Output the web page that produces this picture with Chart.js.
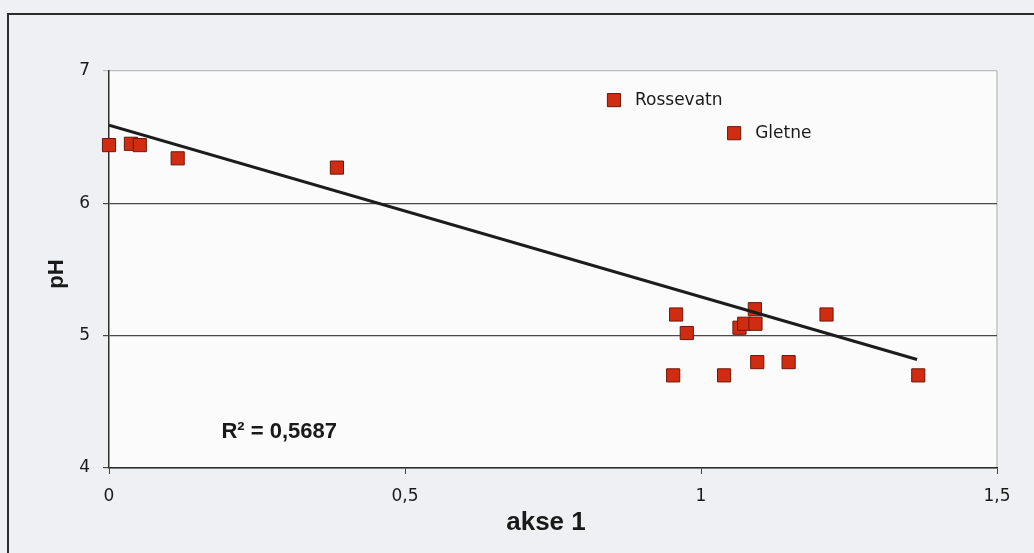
<!DOCTYPE html>
<html>
<head>
<meta charset="utf-8">
<script src="https://cdn.jsdelivr.net/npm/chart.js@4/dist/chart.umd.min.js"></script>
<style>
  html, body { margin: 0; padding: 0; background: #eef0f3; overflow: hidden; }
  #wrap { position: relative; width: 1034px; height: 553px; }
  #frame { position: absolute; left: 7px; top: 13px; width: 1100px; height: 700px;
           border-left: 2px solid #2b2b2b; border-top: 2px solid #2b2b2b; pointer-events: none; }
  canvas { position: absolute; left: 0; top: 0; }
</style>
</head>
<body>
<div id="wrap">
  <canvas id="c" width="1034" height="553"></canvas>
  <div id="frame"></div>
</div>
<script>
// akse 1 (x) and pH (y) per lake
const akse1 = [0, 0.037, 0.052, 0.116, 0.385, 0.958, 0.976, 0.953, 1.039, 1.065, 1.073, 1.092, 1.091, 1.095, 1.148, 1.212, 1.367];
const pH    = [6.44, 6.45, 6.44, 6.34, 6.27, 5.16, 5.02, 4.70, 4.70, 5.06, 5.09, 5.09, 5.20, 4.80, 4.80, 5.16, 4.70];

// labelled markers
const markerNames = ["Rossevatn", "Gletne"];
const markerX = [0.853, 1.056];
const markerY = [6.78, 6.53];

// trend line end points
const trendX = [0, 1.365];
const trendY = [6.59, 4.82];
const rSquared = "R\u00B2 = 0,5687";

const xTicks = [0, 0.5, 1, 1.5];
const yTicks = [4, 5, 6, 7];

const red = "#d02c12";
const redBorder = "#6e1608";

const plotBg = {
  id: "plotBg",
  beforeDraw(chart) {
    const { ctx, chartArea: a } = chart;
    ctx.save();
    ctx.fillStyle = "#fbfbfc";
    ctx.fillRect(a.left, a.top, a.right - a.left, a.bottom - a.top);
    ctx.strokeStyle = "#c4c6ca";
    ctx.lineWidth = 1.5;
    ctx.beginPath();
    ctx.moveTo(a.right, a.top);
    ctx.lineTo(a.right, a.bottom);
    ctx.stroke();
    ctx.restore();
  },
};

const texts = {
  id: "texts",
  afterDraw(chart) {
    const { ctx, scales } = chart;
    const x = scales.x, y = scales.y;
    ctx.save();
    ctx.fillStyle = "#1a1a1a";
    ctx.textBaseline = "middle";
    // marker names
    ctx.font = "17px 'DejaVu Sans'";
    ctx.textAlign = "left";
    markerNames.forEach((name, i) => {
      ctx.fillText(name, x.getPixelForValue(markerX[i]) + 21, y.getPixelForValue(markerY[i]));
    });
    // R squared
    ctx.font = "bold 22px 'Liberation Sans'";
    ctx.fillText(rSquared, x.getPixelForValue(0.19), y.getPixelForValue(4.27));
    // axis titles
    ctx.font = "bold 26px 'Liberation Sans'";
    ctx.textAlign = "center";
    ctx.fillText("akse 1", 546, 523);
    ctx.translate(57, 274);
    ctx.rotate(-Math.PI / 2);
    ctx.font = "bold 22px 'Liberation Sans'";
    ctx.fillText("pH", 0, 0);
    ctx.restore();
  },
};

const comma = (v) => String(v).replace(".", ",");

new Chart(document.getElementById("c"), {
  type: "scatter",
  data: {
    datasets: [
      {
        label: "trend",
        data: trendX.map((v, i) => ({ x: v, y: trendY[i] })),
        showLine: true,
        borderColor: "#1c1c1c",
        borderWidth: 3,
        pointRadius: 0,
        order: 0,
      },
      {
        label: "pH",
        data: akse1.map((v, i) => ({ x: v, y: pH[i] })),
        pointStyle: "rect",
        pointRadius: 9.3,
        backgroundColor: red,
        borderColor: redBorder,
        borderWidth: 1,
        clip: false,
        order: 1,
      },
      {
        label: "markers",
        data: markerX.map((v, i) => ({ x: v, y: markerY[i] })),
        pointStyle: "rect",
        pointRadius: 9.3,
        backgroundColor: red,
        borderColor: redBorder,
        borderWidth: 1,
        clip: false,
        order: 1,
      },
    ],
  },
  options: {
    responsive: false,
    animation: false,
    layout: { padding: { left: 0, top: 71, right: 37, bottom: 0 } },
    plugins: { legend: { display: false }, tooltip: { enabled: false } },
    scales: {
      x: {
        type: "linear",
        min: 0,
        max: 1.5,
        afterBuildTicks: (s) => { s.ticks = xTicks.map((v) => ({ value: v })); },
        afterFit: (s) => { s.height = 85; },
        ticks: {
          color: "#1a1a1a",
          font: { family: "'DejaVu Sans'", size: 17 },
          padding: 12,
          callback: comma,
        },
        grid: { drawOnChartArea: false, drawTicks: true, tickLength: 6, color: "#444" },
        border: { color: "#2e2e2e", width: 1.5 },
      },
      y: {
        type: "linear",
        min: 4,
        max: 7,
        afterBuildTicks: (s) => { s.ticks = yTicks.map((v) => ({ value: v })); },
        afterFit: (s) => { s.width = 109; },
        ticks: {
          color: "#1a1a1a",
          font: { family: "'DejaVu Sans'", size: 17 },
          padding: 13,
          callback: comma,
        },
        grid: {
          drawTicks: true,
          tickLength: 6,
          lineWidth: 1.2,
          color: (c) => (c.tick && c.tick.value === 7 ? "#b9bbbf" : "#4a4a4a"),
        },
        border: { color: "#2e2e2e", width: 1.5 },
      },
    },
  },
  plugins: [plotBg, texts],
});
</script>
</body>
</html>
